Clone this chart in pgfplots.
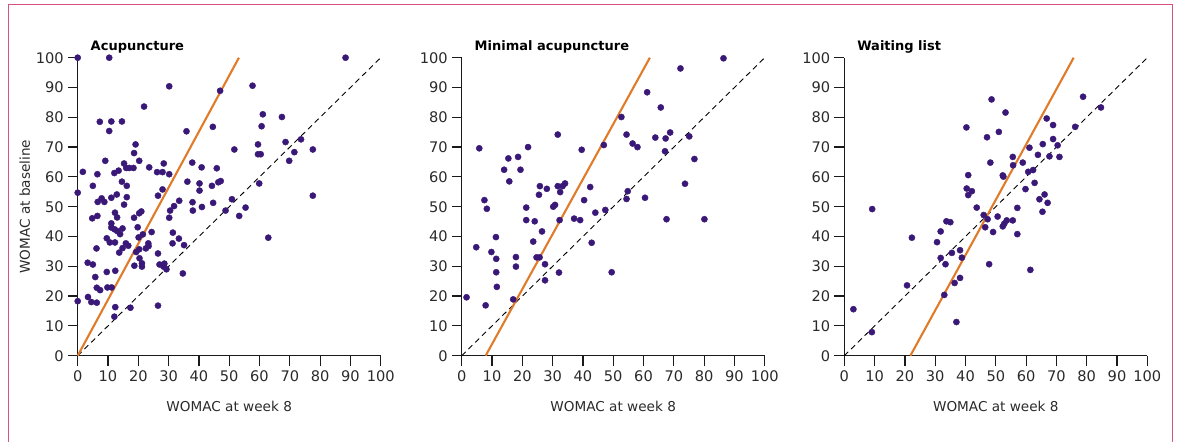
\documentclass[border=0pt]{standalone}
\usepackage{fontspec}
\setmainfont{DejaVu Sans}
\usepackage{pgfplots}
\pgfplotsset{compat=1.18}

\definecolor{framec}{HTML}{D9527E}
\definecolor{pointc}{HTML}{3A1878}
\definecolor{linec}{HTML}{E07B2A}
\definecolor{textc}{HTML}{2A2A2A}
\definecolor{axisc}{HTML}{1A1A1A}

\pgfplotsset{
  panel/.style={
    scale only axis, width=303bp, height=298bp,
    anchor=south west,
    xmin=0, xmax=100, ymin=0, ymax=100,
    xtick={0,10,...,100}, ytick={0,10,...,100},
    axis x line*=bottom, axis y line*=left,
    axis line style={line width=1.2bp, color=axisc},
    tick align=outside, major tick length=10bp,
    tick style={line width=1.2bp, color=axisc},
    clip=false,
    /pgf/number format/assume math mode=true,
    tick label style={font=\fontsize{14.6bp}{17bp}\selectfont, text=textc},
    yticklabel style={xshift=-0.5bp},
    xticklabel style={yshift=-1.5bp},
    every axis x label/.style={at={(rel axis cs:0.5,-0.1856)}, anchor=base,
      font=\fontsize{13.6bp}{16bp}\selectfont, text=textc},
    every axis y label/.style={at={(rel axis cs:-0.1578,0.5)}, anchor=base, rotate=90,
      font=\fontsize{13.6bp}{16bp}\selectfont, text=textc},
    every axis title/.style={at={(rel axis cs:0.0314,1.0225)}, anchor=base west,
      font=\bfseries\fontsize{13bp}{15bp}\selectfont, text=black},
    xlabel={WOMAC at week 8},
  },
  diag/.style={black, line width=0.9bp, dash pattern=on 5.5bp off 4bp},
  fit/.style={linec, line width=2.1bp},
  pts/.style={only marks, mark=*, mark size=3.1pt,
    mark options={draw=pointc, fill=pointc, line width=0.4bp}},
}

\begin{document}
\begin{tikzpicture}

\draw[framec, line width=1.3bp] (8.3bp,-10bp) -- (8.3bp,437.7bp) -- (1172.3bp,437.7bp) -- (1172.3bp,-10bp);

% Acupuncture
\begin{axis}[panel, at={(77.7bp,86.3bp)}, title={Acupuncture}, ylabel={WOMAC at baseline}]
\addplot[diag] coordinates {(0,0) (100,100)};
\addplot[fit] coordinates {(0,0) (53.2,100)};
\addplot[pts] coordinates {
(0,100)(10.4,100)(88.4,100)(30.2,90.4)(47,88.9)(57.7,90.6)(21.9,83.6)(61.1,81)(67.4,80.1)
(7.3,78.5)(11.1,78.6)(14.6,78.6)(44.6,76.8)(60.7,77)(10.4,75.4)(35.9,75.3)(19.1,70.9)
(51.7,69.2)(68.6,71.7)(73.7,72.6)(59.5,70.9)(77.6,69.2)(71.5,68.3)(59.5,67.6)(60.4,67.6)
(18.6,68)(69.8,65.4)(9.1,65.4)(20.3,65.4)(1.7,61.7)(6.5,60.9)(15.3,64.5)(16,63)(17,63)
(18.4,63)(23.6,63.2)(28.4,64.5)(37.8,64.8)(40.9,63.2)(45.9,62.9)(26.2,61.6)(28,61.6)
(30.2,60.9)(12.1,61.3)(13.5,62.1)(14.6,58.4)(16.2,57)(36.2,58.4)(40.2,57.8)(40.2,55.4)
(44.3,57)(46.4,58.2)(47.2,58.6)(5,57)(0,54.7)(12.9,54.1)(16.2,53.2)(26.5,53.7)(28,55.8)
(7.9,52.8)(11.1,53)(6.6,51.6)(8.8,51.6)(15.3,50.7)(31.8,50.2)(33.5,52)(37.9,51.5)(41,49.9)
(44.7,51.3)(50.9,52.5)(55.4,49.7)(48.8,48.7)(53.3,46.9)(38,48.7)(30.5,48.7)(30.2,46.3)
(21,48.4)(20.3,47.8)(18.6,46.3)(4.8,46.1)(6.5,46.9)(12.3,48)(13,46.4)(11.1,44.4)(11.1,43)
(12.2,42.4)(13.1,41.8)(14,40.8)(14.8,42.7)(19.8,43.1)(24.4,41.5)(21.5,40.7)(31.4,41.3)
(33.4,39.3)(31.3,37.7)(35.1,37.1)(62.9,39.6)(9.6,39.4)(10.6,38)(12.3,38)(15.9,37.7)
(16.7,36.9)(6.2,36)(14.8,36.1)(13.7,34.6)(20.3,35.7)(19.3,34.8)(22.5,36)(23.3,37.7)
(23.4,36.8)(26.5,34.3)(20.4,32.7)(21.2,31)(21.2,29.9)(18.7,30.2)(3.3,31.2)(5,30.6)(27,30.6)
(28.6,30.9)(28.3,29.9)(29.3,29)(34.7,27.6)(5.8,26.4)(9.6,28.1)(12.4,28.5)(6.3,22.8)(7.4,22)
(9.8,22.9)(11.2,22.9)(3.4,19.7)(4.5,18)(6.3,17.8)(0,18.3)(26.5,16.8)(12.4,16.3)(17.4,16.1)
(12.1,13.1)(77.6,53.7)(59.9,57.8)(20.1,39.7)
};
\end{axis}

% Minimal acupuncture
\begin{axis}[panel, at={(461.7bp,86.3bp)}, title={Minimal acupuncture}]
\addplot[diag] coordinates {(0,0) (100,100)};
\addplot[fit] coordinates {(7.9,0) (62.1,100)};
\addplot[pts] coordinates {
(1.6,19.6)(7.9,16.9)(4.8,36.4)(5.8,69.6)(7.5,52.2)(8.3,49.3)(9.8,34.8)(11.3,39.8)(11.4,32.5)
(11.4,28)(11.6,23.1)(14,62.4)(15.4,66.2)(15.7,58.5)(18.6,66.7)(19.4,62.4)(17,18.9)(17.9,33.1)
(17.9,29.9)(21.9,70)(21.3,49.7)(21.3,45.5)(23.6,38.3)(24.1,45.1)(24.7,33)(25.7,33)(25.8,56.9)
(25.5,54)(26.5,41.7)(27.5,30.7)(27.5,25.3)(28.1,56)(30.2,50)(30.8,50.6)(31.7,74.2)(31.7,56.9)
(32.5,54.9)(32.3,45.5)(32.1,27.9)(33.3,56.9)(34.1,57.8)(37.1,46)(39.1,45.5)(39.6,69.1)
(40.4,52.2)(42.4,56.6)(42.9,37.9)(44.1,48)(46.9,70.7)(47.4,48.9)(49.5,28)(52.7,80.1)
(54.4,74.2)(54.8,55.2)(54.4,52.6)(56.4,71.2)(58,70)(61.2,88.4)(65.7,83.3)(72.2,96.4)
(86.4,99.8)(63.9,73.2)(67.3,72.9)(68.8,74.9)(75.1,73.6)(67.1,68.6)(76.8,66)(60.5,53)
(73.7,57.7)(67.6,45.8)(80.1,45.8)
};
\end{axis}

% Waiting list
\begin{axis}[panel, at={(844.3bp,86.3bp)}, title={Waiting list}]
\addplot[diag] coordinates {(0,0) (100,100)};
\addplot[fit] coordinates {(21.8,0) (75.7,100)};
\addplot[pts] coordinates {
(3,15.6)(9.1,7.9)(9.2,49.2)(20.7,23.6)(22.3,39.6)(30.6,38.1)(31.8,41.7)(31.8,32.8)(33,20.4)
(33.4,30.7)(33.7,45.1)(35,44.8)(35.5,34.5)(36.4,24.4)(37,11.3)(38.2,35.4)(38.8,32.9)
(38.2,26.1)(40.3,76.6)(40.9,60.6)(40.4,56.1)(40.9,53.9)(42.1,55.2)(43.7,49.7)(46,47.2)
(46.5,43.1)(47.3,45.8)(47.8,30.7)(47.1,73.3)(48.2,64.8)(48.6,86)(49.1,41.5)(51,75.1)
(50.6,46.7)(53.2,81.6)(55.6,66.7)(55.7,63.9)(52.3,60.5)(52.5,60.1)(58.9,64.8)(61.1,69.8)
(63.9,67.4)(65.5,71)(66.8,79.6)(68.9,77.4)(68.9,72.7)(70.4,70.6)(67.7,66.9)(71,66.7)
(78.8,86.9)(84.7,83.3)(76.2,76.8)(60.7,61.7)(62.3,62.3)(62.8,58)(59.8,55.9)(66.1,54.1)
(64.4,52.5)(67.1,51.3)(65.4,48.3)(57.1,49.6)(53.6,45.4)(55.6,45.4)(52.8,44.3)(52.3,43.4)
(57.1,40.8)(61.4,28.8)
};
\end{axis}

\pgfresetboundingbox
\path[use as bounding box] (0bp,0bp) rectangle (1177bp,442bp);
\end{tikzpicture}
\end{document}
